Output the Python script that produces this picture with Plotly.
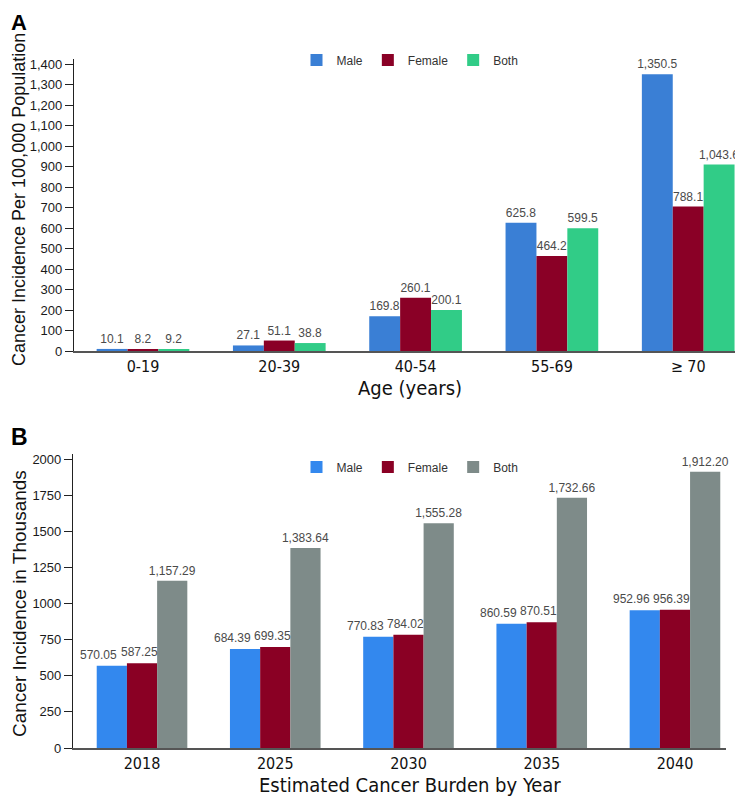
import plotly.graph_objects as go

# ---------------- Data ----------------
age_groups = ["0-19", "20-39", "40-54", "55-69", "≥ 70"]
# printed data labels
age_male_labels = [10.1, 27.1, 169.8, 625.8, 1350.5]
age_female_labels = [8.2, 51.1, 260.1, 464.2, 788.1]
age_both_labels = [9.2, 38.8, 200.1, 599.5, 1043.6]
# bar heights as drawn in the picture (the >=70 female/both bars are drawn shorter than their labels)
age_male = [10.1, 27.1, 169.8, 625.8, 1350.5]
age_female = [8.2, 51.1, 260.1, 464.2, 705.0]
age_both = [9.2, 38.8, 200.1, 599.5, 910.0]

years = ["2018", "2025", "2030", "2035", "2040"]
year_male = [570.05, 684.39, 770.83, 860.59, 952.96]
year_female = [587.25, 699.35, 784.02, 870.51, 956.39]
year_both = [1157.29, 1383.64, 1555.28, 1732.66, 1912.20]

# ---------------- Styling ----------------
W, H = 743, 799
OFF = 8  # page body margin of the html page
NARROW = "Liberation Sans Narrow, Arial Narrow, DejaVu Sans Condensed, sans-serif"
SANS = "Liberation Sans, Arial, Helvetica, sans-serif"

colA = {"Male": "#3a7fd5", "Female": "#8a0026", "Both": "#31cc87"}
colB = {"Male": "#3388ee", "Female": "#8a0024", "Both": "#7e8b89"}

BARGAP = 0.32


def px_x(p):
    return (p - OFF) / W


def px_y(p):
    return 1 - (p - OFF) / H


label_font = dict(family=SANS, size=12, color="#4a4a4a")

fig = go.Figure()

for name, vals, labs in [("Male", age_male, age_male_labels),
                         ("Female", age_female, age_female_labels),
                         ("Both", age_both, age_both_labels)]:
    fig.add_trace(go.Bar(
        x=age_groups, y=vals, name=name, marker_color=colA[name],
        marker_line_width=0,
        text=[f"{v:,.1f}" for v in labs], texttemplate="%{text}",
        textposition="outside", constraintext="none",
        textfont=label_font, cliponaxis=False,
        xaxis="x", yaxis="y", legend="legend",
    ))

for name, vals in [("Male", year_male), ("Female", year_female), ("Both", year_both)]:
    fig.add_trace(go.Bar(
        x=years, y=vals, name=name, marker_color=colB[name],
        marker_line_width=0,
        texttemplate="%{y:,.2f}" if name == "Both" else None,
        textposition="outside" if name == "Both" else "none",
        constraintext="none", textfont=label_font, cliponaxis=False,
        xaxis="x2", yaxis="y2", legend="legend2",
    ))

# plot areas (pixel-measured on the reference)
xA = [px_x(74), px_x(740)]
yA = [px_y(351), px_y(59)]
xB = [px_x(73), px_x(726)]
yB = [px_y(748), px_y(454)]
rangeB = [-0.518, 4.383]

# In panel B the male / female labels are set a little to the left (as in the original),
# so they are placed as annotations anchored on the data values (x = category index).
catB_px = (xB[1] - xB[0]) * W / (rangeB[1] - rangeB[0])
bar_w = (1 - BARGAP) / 3
label_anns = []
for vals, bar_off, nudge in [(year_male, -bar_w, -13), (year_female, 0.0, -3)]:
    for i, v in enumerate(vals):
        label_anns.append(dict(
            x=i, y=v, xref="x2", yref="y2", text=f"{v:,.2f}", showarrow=False,
            xanchor="center", yanchor="bottom", xshift=bar_off * catB_px + nudge, yshift=2,
            font=label_font,
        ))

xaxis_common = dict(
    type="category",
    showgrid=False, zeroline=False, showline=True, linecolor="#555555",
    linewidth=2, ticks="", tickfont=dict(family=NARROW, size=16, color="#111111"),
    fixedrange=True, automargin=False,
)
yaxis_common = dict(
    showgrid=False, zeroline=False, showline=True, linecolor="#222222",
    linewidth=1.2, ticks="outside", ticklen=8, tickcolor="#222222",
    tickfont=dict(family=SANS, size=13, color="#1a1a1a"), fixedrange=True,
    automargin=False,
)

fig.update_layout(
    width=W, height=H,
    margin=dict(l=0, r=0, t=0, b=0, autoexpand=False),
    paper_bgcolor="white", plot_bgcolor="white",
    barmode="group", bargap=BARGAP, bargroupgap=0,
    xaxis=dict(domain=xA, range=[-0.506, 4.38], anchor="y", **xaxis_common),
    yaxis=dict(domain=yA, range=[0, 1425], anchor="x", tickvals=list(range(0, 1401, 100)),
               tickformat=",", **yaxis_common),
    xaxis2=dict(domain=xB, range=rangeB, anchor="y2", **xaxis_common),
    yaxis2=dict(domain=yB, range=[0, 2035], anchor="x2",
                tickvals=[0, 250, 500, 750, 1000, 1250, 1500, 1750, 2000],
                tickformat="d", **yaxis_common),
    legend=dict(orientation="h", x=px_x(410), xanchor="center", y=px_y(60), yanchor="middle",
                font=dict(family=SANS, size=12, color="#333333"), itemwidth=30,
                bgcolor="rgba(0,0,0,0)", tracegroupgap=0),
    legend2=dict(orientation="h", x=px_x(410), xanchor="center", y=px_y(467), yanchor="middle",
                 font=dict(family=SANS, size=12, color="#333333"), itemwidth=30,
                 bgcolor="rgba(0,0,0,0)", tracegroupgap=0),
    showlegend=True,
    annotations=[
        dict(text="<b>A</b>", x=px_x(9), y=1, xref="paper", yref="paper",
             xanchor="left", yanchor="top", showarrow=False,
             font=dict(family=SANS, size=22, color="#000000")),
        dict(text="<b>B</b>", x=px_x(9), y=px_y(437), xref="paper", yref="paper",
             xanchor="left", yanchor="middle", showarrow=False,
             font=dict(family=SANS, size=23, color="#000000")),
        dict(text="Cancer Incidence Per 100,000 Population", x=px_x(19), y=px_y(200),
             xref="paper", yref="paper", textangle=-90, showarrow=False,
             xanchor="center", yanchor="middle",
             font=dict(family=SANS, size=18, color="#111111")),
        dict(text="Cancer Incidence in Thousands", x=px_x(19), y=px_y(604),
             xref="paper", yref="paper", textangle=-90, showarrow=False,
             xanchor="center", yanchor="middle",
             font=dict(family=SANS, size=19, color="#111111")),
        dict(text="Age (years)", x=px_x(410), y=px_y(388), xref="paper", yref="paper",
             showarrow=False, xanchor="center", yanchor="middle",
             font=dict(family=NARROW, size=20, color="#111111")),
        dict(text="Estimated Cancer Burden by Year", x=px_x(410), y=px_y(785), xref="paper", yref="paper",
             showarrow=False, xanchor="center", yanchor="middle",
             font=dict(family=NARROW, size=20, color="#111111")),
    ] + label_anns,
)

fig.write_html("out.html")
